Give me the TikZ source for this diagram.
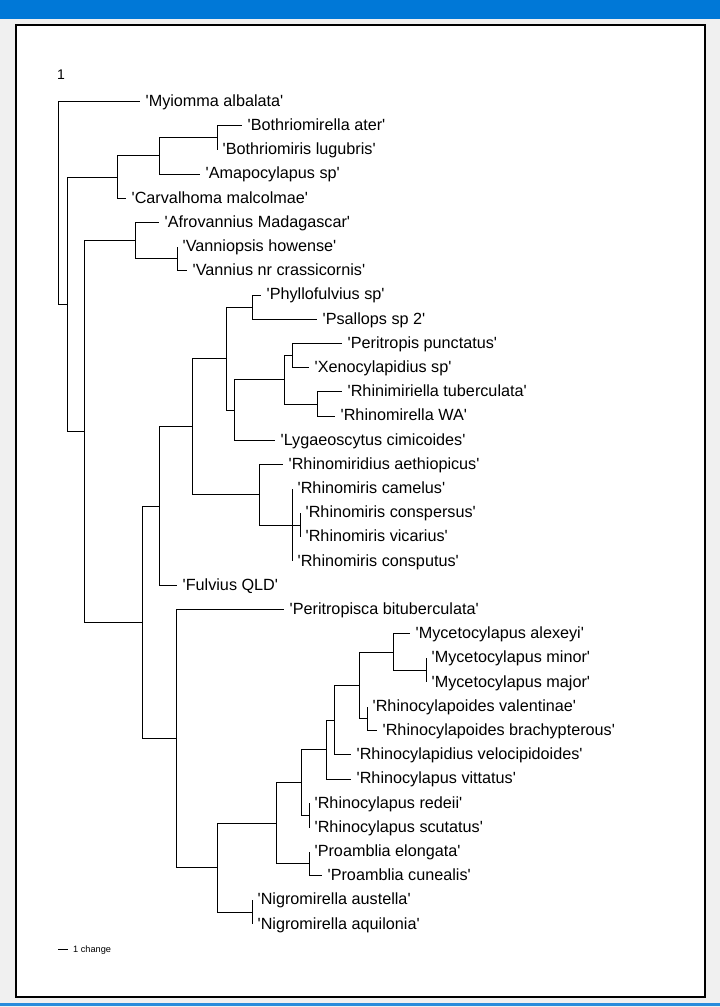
\documentclass[tikz,border=0pt]{standalone}
\font\labf="Liberation Sans" at 16.2pt
\font\smallf="Liberation Sans" at 9.2pt
\font\numf="Liberation Sans" at 14pt
\definecolor{winblue}{RGB}{0,120,215}
\definecolor{wingray}{RGB}{240,240,240}
\definecolor{lineblue}{RGB}{40,140,220}
\begin{document}
\begin{tikzpicture}[x=1pt,y=-1pt,
  tree/.style={line width=1pt,black},
  lab/.style={anchor=base west,inner sep=0pt,xshift=5.5pt,yshift=-4.7pt,font=\labf}]
\useasboundingbox (0,0) rectangle (720,1007);
% window background
\fill[wingray] (0,0) rectangle (720,1007);
\fill[winblue] (0,0) rectangle (720,19);
\fill[lineblue] (0,1003) rectangle (720,1005.5);
\draw[fill=white,line width=1.3pt] (16,25) rectangle (705,997);
% tree label
\node[anchor=base west,inner sep=0pt,font=\numf] (one) at (57,79) {1};
% internal nodes
\coordinate (nR0) at (58,202.9);
\coordinate (nA) at (67,304.3);
\coordinate (nB) at (117,177.1);
\coordinate (nC) at (159,155.95);
\coordinate (nD) at (217,137.8);
\coordinate (nE) at (84,431.5);
\coordinate (nF) at (135,240.65);
\coordinate (nG) at (177,258.8);
\coordinate (nH) at (142,622.4);
\coordinate (nI) at (159,506.1);
\coordinate (nK) at (192,426.7);
\coordinate (nL) at (226,358.6);
\coordinate (nM) at (252,307.2);
\coordinate (nN) at (234,410.05);
\coordinate (nO) at (284,379.8);
\coordinate (nP) at (292,355.6);
\coordinate (nQ) at (317,404);
\coordinate (nR) at (259,494.75);
\coordinate (nS) at (292,525);
\coordinate (nT) at (300,525);
\coordinate (nJ) at (176,738.7);
\coordinate (nU) at (217,867.7);
\coordinate (nNg) at (252,912.2);
\coordinate (nV) at (276,823.15);
\coordinate (nPr) at (309,863.8);
\coordinate (nW) at (301,782.5);
\coordinate (nRd) at (309,815.4);
\coordinate (nX) at (326,749.6);
\coordinate (nY) at (334,720.1);
\coordinate (nZ) at (359,685.3);
\coordinate (nMy) at (393,652.05);
\coordinate (nMM) at (426,670.2);
\coordinate (nRc) at (367,718.6);
% leaf branch ends
\coordinate (e1) at (140,101.5);
\coordinate (e2) at (242,125.7);
\coordinate (e3) at (217,149.9);
\coordinate (e4) at (200,174.1);
\coordinate (e5) at (126,198.3);
\coordinate (e6) at (159,222.5);
\coordinate (e7) at (177,246.7);
\coordinate (e8) at (187,270.9);
\coordinate (e9) at (261,295.1);
\coordinate (e10) at (317,319.3);
\coordinate (e11) at (342,343.5);
\coordinate (e12) at (309,367.7);
\coordinate (e13) at (342,391.9);
\coordinate (e14) at (335,416.1);
\coordinate (e15) at (275,440.3);
\coordinate (e16) at (283,464.5);
\coordinate (e17) at (292,488.7);
\coordinate (e18) at (300,512.9);
\coordinate (e19) at (300,537.1);
\coordinate (e20) at (292,561.3);
\coordinate (e21) at (177,585.5);
\coordinate (e22) at (284,609.7);
\coordinate (e23) at (410,633.9);
\coordinate (e24) at (426,658.1);
\coordinate (e25) at (426,682.3);
\coordinate (e26) at (367,706.5);
\coordinate (e27) at (377,730.7);
\coordinate (e28) at (351,754.9);
\coordinate (e29) at (351,779.1);
\coordinate (e30) at (309,803.3);
\coordinate (e31) at (309,827.5);
\coordinate (e32) at (309,851.7);
\coordinate (e33) at (322,875.9);
\coordinate (e34) at (252,900.1);
\coordinate (e35) at (252,924.3);
% labels
\node[lab] (t1) at (e1) {'Myiomma albalata'};
\node[lab] (t2) at (e2) {'Bothriomirella ater'};
\node[lab] (t3) at (e3) {'Bothriomiris lugubris'};
\node[lab] (t4) at (e4) {'Amapocylapus sp'};
\node[lab] (t5) at (e5) {'Carvalhoma malcolmae'};
\node[lab] (t6) at (e6) {'Afrovannius Madagascar'};
\node[lab] (t7) at (e7) {'Vanniopsis howense'};
\node[lab] (t8) at (e8) {'Vannius nr crassicornis'};
\node[lab] (t9) at (e9) {'Phyllofulvius sp'};
\node[lab] (t10) at (e10) {'Psallops sp 2'};
\node[lab] (t11) at (e11) {'Peritropis punctatus'};
\node[lab] (t12) at (e12) {'Xenocylapidius sp'};
\node[lab] (t13) at (e13) {'Rhinimiriella tuberculata'};
\node[lab] (t14) at (e14) {'Rhinomirella WA'};
\node[lab] (t15) at (e15) {'Lygaeoscytus cimicoides'};
\node[lab] (t16) at (e16) {'Rhinomiridius aethiopicus'};
\node[lab] (t17) at (e17) {'Rhinomiris camelus'};
\node[lab] (t18) at (e18) {'Rhinomiris conspersus'};
\node[lab] (t19) at (e19) {'Rhinomiris vicarius'};
\node[lab] (t20) at (e20) {'Rhinomiris consputus'};
\node[lab] (t21) at (e21) {'Fulvius QLD'};
\node[lab] (t22) at (e22) {'Peritropisca bituberculata'};
\node[lab] (t23) at (e23) {'Mycetocylapus alexeyi'};
\node[lab] (t24) at (e24) {'Mycetocylapus minor'};
\node[lab] (t25) at (e25) {'Mycetocylapus major'};
\node[lab] (t26) at (e26) {'Rhinocylapoides valentinae'};
\node[lab] (t27) at (e27) {'Rhinocylapoides brachypterous'};
\node[lab] (t28) at (e28) {'Rhinocylapidius velocipidoides'};
\node[lab] (t29) at (e29) {'Rhinocylapus vittatus'};
\node[lab] (t30) at (e30) {'Rhinocylapus redeii'};
\node[lab] (t31) at (e31) {'Rhinocylapus scutatus'};
\node[lab] (t32) at (e32) {'Proamblia elongata'};
\node[lab] (t33) at (e33) {'Proamblia cunealis'};
\node[lab] (t34) at (e34) {'Nigromirella austella'};
\node[lab] (t35) at (e35) {'Nigromirella aquilonia'};
% branches
\draw[tree] (nR0) |- (e1);  \draw[tree] (nR0) |- (nA);
\draw[tree] (nA) |- (nB);   \draw[tree] (nA) |- (nE);
\draw[tree] (nB) |- (nC);   \draw[tree] (nB) |- (e5);
\draw[tree] (nC) |- (nD);   \draw[tree] (nC) |- (e4);
\draw[tree] (nD) |- (e2);   \draw[tree] (nD) |- (e3);
\draw[tree] (nE) |- (nF);   \draw[tree] (nE) |- (nH);
\draw[tree] (nF) |- (e6);   \draw[tree] (nF) |- (nG);
\draw[tree] (nG) |- (e7);   \draw[tree] (nG) |- (e8);
\draw[tree] (nH) |- (nI);   \draw[tree] (nH) |- (nJ);
\draw[tree] (nI) |- (nK);   \draw[tree] (nI) |- (e21);
\draw[tree] (nK) |- (nL);   \draw[tree] (nK) |- (nR);
\draw[tree] (nL) |- (nM);   \draw[tree] (nL) |- (nN);
\draw[tree] (nM) |- (e9);   \draw[tree] (nM) |- (e10);
\draw[tree] (nN) |- (nO);   \draw[tree] (nN) |- (e15);
\draw[tree] (nO) |- (nP);   \draw[tree] (nO) |- (nQ);
\draw[tree] (nP) |- (e11);  \draw[tree] (nP) |- (e12);
\draw[tree] (nQ) |- (e13);  \draw[tree] (nQ) |- (e14);
\draw[tree] (nR) |- (e16);  \draw[tree] (nR) |- (nS);
\draw[tree] (nS) |- (e17);  \draw[tree] (nS) -- (nT);  \draw[tree] (nS) |- (e20);
\draw[tree] (nT) |- (e18);  \draw[tree] (nT) |- (e19);
\draw[tree] (nJ) |- (e22);  \draw[tree] (nJ) |- (nU);
\draw[tree] (nU) |- (nV);   \draw[tree] (nU) |- (nNg);
\draw[tree] (nNg) |- (e34); \draw[tree] (nNg) |- (e35);
\draw[tree] (nV) |- (nW);   \draw[tree] (nV) |- (nPr);
\draw[tree] (nPr) |- (e32); \draw[tree] (nPr) |- (e33);
\draw[tree] (nW) |- (nX);   \draw[tree] (nW) |- (nRd);
\draw[tree] (nRd) |- (e30); \draw[tree] (nRd) |- (e31);
\draw[tree] (nX) |- (nY);   \draw[tree] (nX) |- (e29);
\draw[tree] (nY) |- (nZ);   \draw[tree] (nY) |- (e28);
\draw[tree] (nZ) |- (nMy);  \draw[tree] (nZ) |- (nRc);
\draw[tree] (nMy) |- (e23); \draw[tree] (nMy) |- (nMM);
\draw[tree] (nMM) |- (e24); \draw[tree] (nMM) |- (e25);
\draw[tree] (nRc) |- (e26); \draw[tree] (nRc) |- (e27);
% scale bar
\coordinate (sb1) at (58,949);
\coordinate (sb2) at (68,949);
\draw[tree] (sb1) -- (sb2);
\node[anchor=base west,inner sep=0pt,font=\smallf] (sbl) at (73,952.3) {1 change};
\end{tikzpicture}
\end{document}
